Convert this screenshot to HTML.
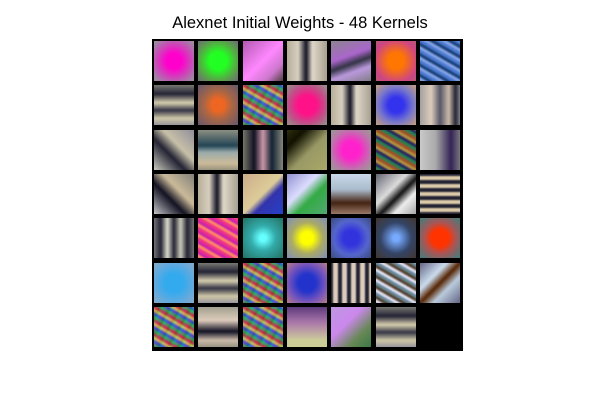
<!DOCTYPE html>
<html><head><meta charset="utf-8"><style>
body{margin:0;background:#fff;width:600px;height:400px;position:relative;overflow:hidden;font-family:"Liberation Sans",sans-serif}
#title{position:absolute;left:0;width:600px;top:14px;text-align:center;font-size:16.5px;color:#000}
#grid{position:absolute;left:152px;top:39px;width:311px;height:312px;background:#000}
.c{position:absolute;width:40px;height:40px;overflow:hidden}
.c div{position:absolute;left:-2px;top:-2px;width:44px;height:44px;filter:blur(0.8px)}
</style></head><body>
<div id="title">Alexnet Initial Weights - 48 Kernels</div>
<div id="grid"></div>
<script>
const R='radial-gradient(circle at 50% 50%,';
const noise='repeating-linear-gradient(30deg,rgba(230,60,60,.7) 0 3px,rgba(60,200,90,.7) 3px 6px,rgba(60,100,240,.7) 6px 9px,rgba(250,230,80,.7) 9px 12px),repeating-linear-gradient(-60deg,rgba(255,0,255,.6) 0 3px,rgba(0,255,255,.5) 3px 6px,rgba(40,40,60,.6) 6px 9px)';
const hstripe='linear-gradient(180deg,#8a8a80,#223 25%,#d8d0b0 45%,#334 62%,#cfc8a8 80%,#889)';
const vstripe='linear-gradient(90deg,#b0a890,#d8d0c0 30%,#112 48%,#e0d8c8 62%,#a09888)';
const diag='linear-gradient(45deg,#e0e0d0,#223 40%,#c8c0a8 60%,#889)';
const kernels=[
R+'#f0c 25%,#a7a 75%,#8a8)', R+'#2f2 28%,#5a4 60%,#758)', 'linear-gradient(135deg,#a5a,#f8f 50%,#c7c 75%,#332)', vstripe, 'linear-gradient(160deg,#888,#a6c 40%,#334 55%,#b9d 70%,#777)', R+'#f70 25%,#c48 70%,#a66)', 'repeating-linear-gradient(30deg,rgba(80,130,230,.8) 0 3px,rgba(150,180,255,.8) 3px 6px,rgba(20,60,120,.8) 6px 9px),linear-gradient(#357,#357)',
hstripe, R+'#e62 20%,#a64 45%,#557)', noise, R+'#f18 30%,#b58 62%,#8a8)', vstripe, R+'#33e 25%,#77c 55%,#da6)', 'linear-gradient(90deg,#999,#dcb 30%,#556 50%,#cba 70%,#223 85%,#aaa)',
diag, 'linear-gradient(180deg,#998,#245 40%,#9aa 55%,#cb9 80%,#887)', 'linear-gradient(90deg,#887,#112 30%,#c9a 50%,#123 70%,#998)', 'linear-gradient(135deg,#331,#110 25%,#996 55%,#aa6)', R+'#f2c 28%,#b7a 65%,#8a8)', 'repeating-linear-gradient(30deg,rgba(200,100,50,.8) 0 3px,rgba(50,160,100,.8) 3px 6px,rgba(50,50,120,.8) 6px 9px,rgba(220,180,80,.8) 9px 12px)', 'linear-gradient(90deg,#ccc,#aaa 40%,#325 75%,#888)',
'linear-gradient(45deg,#ddd,#112 40%,#cb9 60%,#777)', vstripe, 'linear-gradient(135deg,#ca8,#dc9 50%,#33a 62%,#24c)', 'linear-gradient(135deg,#88c,#ddf 40%,#3a4 60%,#5a7)', 'linear-gradient(180deg,#cde,#abc 40%,#421 70%,#a87)', 'linear-gradient(135deg,#556,#ddd 40%,#111 55%,#eee 70%,#999)', 'repeating-linear-gradient(180deg,#223 0 4px,#dca 4px 8px)',
'linear-gradient(90deg,#888,#223 20%,#ddc 35%,#223 50%,#ccb 65%,#223 80%,#888)', 'repeating-linear-gradient(30deg,#e38 0 3px,#f86 3px 6px,#c2a 6px 9px)', R+'#6ff 10%,#3aa 40%,#265)', R+'#ff0 20%,#aa6 50%,#78c)', R+'#33d 25%,#56c 55%,#346)', R+'#7af 10%,#346 50%,#432)', R+'#f30 28%,#a55 50%,#288)',
R+'#3ae 30%,#6ad 65%,#9ab)', hstripe, noise, R+'#23c 28%,#75b 60%,#c87)', 'repeating-linear-gradient(90deg,#223 0 4px,#dcb 4px 9px),linear-gradient(#998,#998)', 'repeating-linear-gradient(30deg,#689 0 3px,#dde 3px 6px,#543 6px 9px)', 'linear-gradient(135deg,#557,#cde 35%,#520 50%,#bcd 65%,#557)',
noise, 'linear-gradient(180deg,#998,#dcb 35%,#112 60%,#cba 80%,#887)', noise, 'linear-gradient(180deg,#537,#a7a 40%,#cc9 80%,#cc9)', 'linear-gradient(135deg,#b9d,#c8e 40%,#685 70%,#374)', hstripe, '#000'
];
const g=document.getElementById('grid');
kernels.forEach((bg,i)=>{
  const d=document.createElement('div');
  d.className='c';
  
  
  d.style.left=(2+(i%7)*44.3)+'px';
  d.style.top=(2+Math.floor(i/7)*44.3)+'px';
  const inner=document.createElement('div');
  
  
  inner.style.background=bg;
  d.appendChild(inner);
  g.appendChild(d);
});
</script>
</body></html>
